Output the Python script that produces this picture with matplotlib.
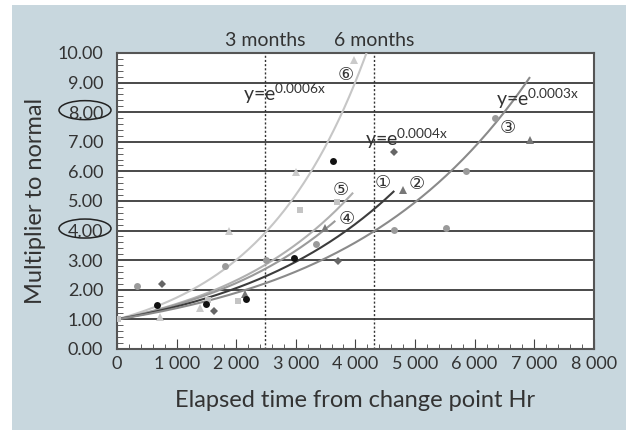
import matplotlib
matplotlib.use("Agg")
import matplotlib.pyplot as plt
from matplotlib.patches import Rectangle, Ellipse
from matplotlib.ticker import MultipleLocator
import numpy as np

plt.rcParams['font.family'] = ['Lato', 'DejaVu Sans']

# fitted curves: growth rate k, last x, colour
curve_k = [0.00055, 0.00042, 0.00040, 0.00036, 0.00032]
curve_end = [4187, 3950, 3650, 4640, 6920]
curve_col = ['#c6c6c6', '#b0b0b0', '#9a9a9a', '#3c3c3c', '#8a8a8a']

# measured points per series
black_x = [677, 1490, 2163, 2975, 3620]
black_y = [1.50, 1.52, 1.68, 3.06, 6.36]
diam_x = [750, 1625, 3709, 4645]
diam_y = [2.20, 1.28, 2.98, 6.67]
tri_x = [2140, 3496, 4795, 6930]
tri_y = [1.86, 4.08, 5.37, 7.06]
gcirc_x = [331, 1820, 2504, 3345, 4645, 5524, 5849, 6336]
gcirc_y = [2.13, 2.80, 3.00, 3.54, 4.02, 4.10, 6.02, 7.79]
sq_x = [20, 1535, 2034, 3076, 3692]
sq_y = [1.00, 1.66, 1.63, 4.70, 4.97]
ltri_x = [723, 1395, 1871, 3008, 3972]
ltri_y = [1.09, 1.39, 3.97, 5.99, 9.76]

circ_labels = ['⑥', '⑤', '④', '①', '②', '③']
circ_x = [3832, 3748, 3860, 4450, 5025, 6560]
circ_y = [9.26, 5.37, 4.39, 5.60, 5.56, 7.46]

formulas = [r'y=e$^{\mathregular{0.0006x}}$', r'y=e$^{\mathregular{0.0004x}}$',
            r'y=e$^{\mathregular{0.0003x}}$']
form_x = [2118, 4168, 6353]
form_y = [8.62, 7.10, 8.45]

month_x = [2490, 4320]
month_txt = ['3 months', '6 months']

xticks = [0, 1000, 2000, 3000, 4000, 5000, 6000, 7000, 8000]
xtick_lbl = ['0', '1 000', '2 000', '3 000', '4 000', '5 000', '6 000', '7 000', '8 000']

txt = '#333333'

fig = plt.figure(figsize=(6.29, 4.34), dpi=100)
fig.patch.set_facecolor('white')
fig.patches.append(Rectangle((0.019, 0.009), 0.976, 0.979, transform=fig.transFigure,
                             facecolor='#c8d7de', edgecolor='none', zorder=-10))

ax = fig.add_axes([0.186, 0.196, 0.758, 0.682])
ax.set_facecolor('white')
ax.set_xlim(0, 8000)
ax.set_ylim(0, 10)

for y in range(1, 10):
    ax.axhline(y, color='#2a2a2a', lw=1.2, zorder=1)

for mx in month_x:
    ax.axvline(mx, color='#333333', lw=1.0, ls=(0, (1.5, 1.5)), zorder=1)

for k, xe, c in zip(curve_k, curve_end, curve_col):
    xs = np.linspace(0, xe, 200)
    ax.plot(xs, np.exp(k * xs), color=c, lw=1.5, zorder=3)

ms = 5
ax.plot(sq_x, sq_y, 's', color='#c4c4c4', ms=ms, mew=0, zorder=4)
ax.plot(ltri_x, ltri_y, '^', color='#cacaca', ms=ms + 1, mew=0, zorder=4)
ax.plot(gcirc_x, gcirc_y, 'o', color='#9a9a9a', ms=ms, mew=0, zorder=4)
ax.plot(tri_x, tri_y, '^', color='#777777', ms=ms + 1, mew=0, zorder=4)
ax.plot(diam_x, diam_y, 'D', color='#666666', ms=ms - 0.5, mew=0, zorder=4)
ax.plot(black_x, black_y, 'o', color='#111111', ms=ms, mew=0, zorder=5)

for s, x, y in zip(circ_labels, circ_x, circ_y):
    ax.text(x, y, s, fontsize=13, color=txt, ha='center', va='center',
            family=['DejaVu Sans'], zorder=6)

for s, x, y in zip(formulas, form_x, form_y):
    ax.text(x, y, s, fontsize=14, color=txt, ha='left', va='center', zorder=6)

for mx, s in zip(month_x, month_txt):
    ax.text(mx, 10.15, s, fontsize=14, color=txt, ha='center', va='bottom')

ax.set_xticks(xticks)
ax.set_xticklabels(xtick_lbl)
ax.xaxis.set_minor_locator(MultipleLocator(200))
ax.set_yticks(np.arange(0, 11, 1))
ax.set_yticklabels(['%.2f' % v for v in range(0, 11)])
ax.yaxis.set_minor_locator(MultipleLocator(0.2))
ax.tick_params(axis='both', which='both', direction='in', colors='#444444',
               labelcolor=txt, labelsize=13)
ax.tick_params(axis='x', which='major', length=7, pad=5)
ax.tick_params(axis='x', which='minor', length=3.5)
ax.tick_params(axis='y', which='major', length=0, pad=10)
ax.tick_params(axis='y', which='minor', length=4)
for sp in ax.spines.values():
    sp.set_color('#555555')
    sp.set_linewidth(1.5)

ax.set_xlabel('Elapsed time from change point Hr', fontsize=17, color=txt, labelpad=13)
ax.set_ylabel('Multiplier to normal', fontsize=17, color=txt, labelpad=8)

# ellipses round the 8.00 and 4.00 labels, placed in pixels (dpi 100)
for yv in [8, 4]:
    cx, cy = ax.transData.transform((0, yv))
    fig.patches.append(Ellipse((85, cy + 2), 52, 19, transform=None,
                               fill=False, edgecolor='#222222', lw=1.1))

fig.savefig('out.png', dpi=100)
